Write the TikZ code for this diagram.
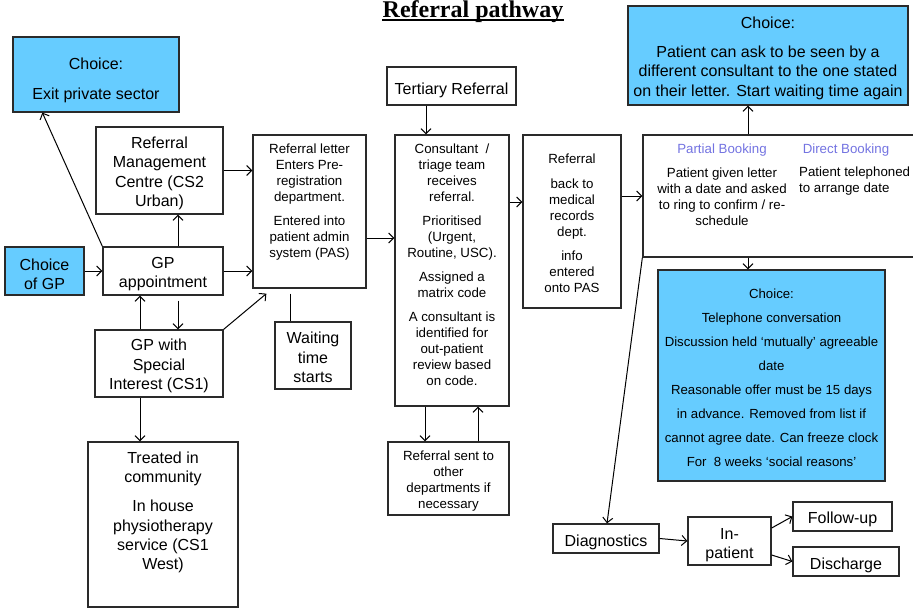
\documentclass[tikz,border=0pt]{standalone}
\usepackage{fontspec}
\setmainfont{Liberation Sans}
\newfontfamily\titlefont{Liberation Serif}
\usetikzlibrary{arrows.meta}
\definecolor{choiceblue}{HTML}{66CCFF}
\definecolor{boxline}{HTML}{2A2A2A}
\definecolor{headblue}{RGB}{115,115,225}
\newcommand\fbig{\fontsize{16}{19.3}\selectfont}
\newcommand\fsmall{\fontsize{13.3}{16}\selectfont}
\newcommand\ftel{\fontsize{13.2}{24}\selectfont}
\begin{document}
\begin{tikzpicture}[x=1pt,y=-1pt,
  box/.style={draw=boxline,line width=1.3pt,rectangle,inner sep=0pt},
  choicebox/.style={box,fill=choiceblue},
  txt/.style={inner sep=0pt,align=center,font=\fsmall},
  bigtxt/.style={inner sep=0pt,align=center,font=\fbig},
  teltxt/.style={inner sep=0pt,align=center,font=\ftel},
  arr/.style={-{Straight Barb[length=5pt,width=10pt]},line width=1pt},
  link/.style={line width=1pt}]
\useasboundingbox (0,0) rectangle (913,608);
\clip (0,0) rectangle (913,608);

% title
\node[inner sep=0pt,anchor=base,font={\titlefont\bfseries\fontsize{24}{27}\selectfont}] (title) at (473,17) {Referral pathway};
\draw[line width=1.6pt] ([yshift=-3pt]title.base west) -- ([yshift=-3pt]title.base east);

% left column
\node[choicebox,minimum width=166pt,minimum height=75pt] (exitc) at (96,74.5) {};
\node[bigtxt] (exitt) at (96,80.5) {Choice:\\[10pt]Exit private sector};
\node[box,minimum width=127pt,minimum height=87pt] (rmc) at (159.5,170.5) {};
\node[bigtxt] (rmct) at ([yshift=-3pt]rmc.center) {Referral\\Management\\Centre (CS2\\Urban)};
\node[box,minimum width=113pt,minimum height=153pt] (letter) at (309.5,211.5) {};
\node[txt] (lettert) at (309.5,202) {Referral letter\\Enters Pre-\\registration\\department.\\[8pt]Entered into\\patient admin\\system (PAS)};
\node[choicebox,minimum width=79pt,minimum height=48pt] (cgp) at (44.5,271) {};
\node[bigtxt] (cgpt) at ([yshift=-3pt]cgp.center) {Choice\\of GP};
\node[box,minimum width=120pt,minimum height=48pt] (gpa) at (163,271) {};
\node[bigtxt] (gpat) at ([yshift=-3pt]gpa.center) {GP\\appointment};
\node[box,minimum width=128pt,minimum height=67pt] (gpsi) at (159,363.5) {};
\node[bigtxt] (gpsit) at ([yshift=-2.5pt]gpsi.center) {GP with\\Special\\Interest (CS1)};
\node[box,minimum width=150pt,minimum height=165pt] (treat) at (163,524.5) {};
\node[bigtxt] (treatt) at (163,512.5) {Treated in\\community\\[10pt]In house\\physiotherapy\\service (CS1\\West)};
\node[box,minimum width=76pt,minimum height=67pt] (wait) at (313,355.5) {};
\node[bigtxt] (waitt) at ([yshift=-2pt]wait.center) {Waiting\\time\\starts};

% middle column
\node[box,minimum width=129pt,minimum height=38pt] (tert) at (451.5,86) {};
\node[bigtxt] (tertt) at ([yshift=-4pt]tert.center) {Tertiary Referral};
\node[box,minimum width=114pt,minimum height=271pt] (cons) at (452,270.5) {};
\node[txt] (const) at (452,265) {Consultant\ \ /\\triage team\\receives\\referral.\\[8pt]Prioritised\\(Urgent,\\Routine, USC).\\[8pt]Assigned a\\matrix code\\[8pt]A consultant is\\identified for\\out-patient\\review based\\on code.};
\node[box,minimum width=121pt,minimum height=73pt] (sent) at (448.5,478.5) {};
\node[txt] (sentt) at ([yshift=-3pt]sent.center) {Referral sent to\\other\\departments if\\necessary};
\node[box,minimum width=98pt,minimum height=173pt] (back) at (572,221.5) {};
\node[txt] (backt) at ([yshift=-2pt]back.center) {Referral\\[9pt]back to\\medical\\records\\dept.\\[8pt]info\\entered\\onto PAS};

% right column
\node[choicebox,minimum width=280pt,minimum height=99pt] (ctop) at (768,55.5) {};
\node[bigtxt] (ctopt) at ([yshift=-2.5pt]ctop.center) {Choice:\\[10pt]Patient can ask to be seen by a\\different consultant to the one stated\\on their letter. Start waiting time again};
\node[box,minimum width=282pt,minimum height=122pt] (book) at (784,196) {};
\node[txt,text=headblue] (partialh) at (722,150) {Partial Booking};
\node[txt,text=headblue] (directh) at (846,150) {Direct Booking};
\node[txt] (partialt) at (722,197) {Patient given letter\\with a date and asked\\to ring to confirm / re-\\schedule};
\node[txt,align=left,anchor=west] (directt) at (799,181) {Patient telephoned\\to arrange date};
\node[choicebox,minimum width=227pt,minimum height=211pt] (tel) at (771.5,375.5) {};
\node[teltxt] (telt) at ([yshift=-2pt]tel.center) {Choice:\\Telephone conversation\\Discussion held ‘mutually’ agreeable\\date\\Reasonable offer must be 15 days\\in advance. Removed from list if\\cannot agree date. Can freeze clock\\For\ \ 8 weeks ‘social reasons’};
\node[box,minimum width=106pt,minimum height=29pt] (diag) at (606,538.5) {};
\node[bigtxt] (diagt) at ([yshift=-4pt]diag.center) {Diagnostics};
\node[box,minimum width=83pt,minimum height=48pt] (inp) at (729.5,541) {};
\node[bigtxt] (inpt) at ([yshift=-4pt]inp.center) {In-\\patient};
\node[box,minimum width=99pt,minimum height=29pt] (fol) at (842.5,516.5) {};
\node[bigtxt] (folt) at ([yshift=-3pt]fol.center) {Follow-up};
\node[box,minimum width=106pt,minimum height=29pt] (dis) at (846,561.5) {};
\node[bigtxt] (dist) at ([yshift=-4pt]dis.center) {Discharge};

% connectors
\draw[arr] (cgp) -- (gpa);
\draw[arr] (gpa.north west) -- ([xshift=30pt]exitc.south west);
\draw[arr] ([xshift=15pt]gpa.north) -- ([xshift=15pt]gpa.north |- rmc.south);
\draw[arr] (rmc.east) -- (rmc.east -| letter.west);
\draw[arr] (gpa.east) -- (gpa.east -| letter.west);
\draw[arr] ([xshift=-19pt]gpsi.north) -- ([xshift=-19pt]gpsi.north |- gpa.south);
\draw[arr] ([xshift=15pt,yshift=-5pt]gpa.south) -- ([xshift=15pt]gpa.south |- gpsi.north);
\draw[arr] (gpsi.north east) -- ([xshift=14pt,yshift=-5pt]letter.south west);
\draw[link] ([xshift=-19.5pt,yshift=-5pt]letter.south) -- ([xshift=-19.5pt]letter.south |- wait.north);
\draw[arr] ([xshift=-19pt]gpsi.south) -- ([xshift=-19pt]gpsi.south |- treat.north);
\draw[arr] ([yshift=-26.5pt]letter.east) -- ([yshift=-26.5pt]letter.east -| cons.west);
\draw[arr] ([xshift=-25.5pt]tert.south) -- ([xshift=-25.5pt]tert.south |- cons.north);
\draw[arr] ([xshift=-27pt]cons.south) -- ([xshift=-27pt]cons.south |- sent.north);
\draw[arr] ([xshift=26pt]cons.south |- sent.north) -- ([xshift=26pt]cons.south);
\draw[arr] ([yshift=68.5pt]cons.east) -- ([yshift=68.5pt]cons.east -| back.west);
\draw[arr] ([yshift=25.5pt]back.east) -- ([yshift=25.5pt]back.east -| book.west);
\draw[arr] ([xshift=-36pt]book.north) -- ([xshift=-36pt]book.north |- ctop.south);
\draw[arr] ([xshift=-36pt]book.south) -- ([xshift=-36pt]book.south |- tel.north);
\draw[arr] (book.south west) -- ([xshift=1pt]diag.north);
\draw[arr] (diag.east) -- (inp.west);
\draw[arr] ([yshift=13pt]inp.east) -- (fol.west);
\draw[arr] ([yshift=-14pt]inp.east) -- (dis.west);
\end{tikzpicture}
\end{document}
